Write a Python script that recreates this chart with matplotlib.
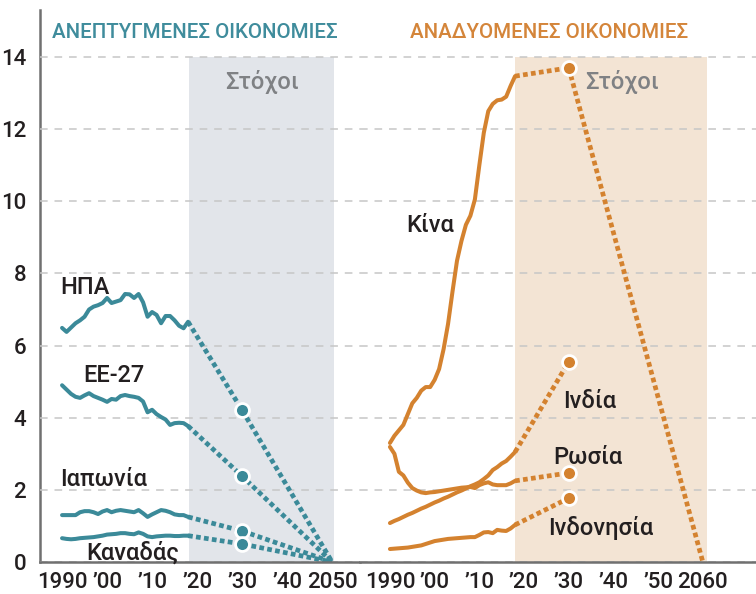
import matplotlib
matplotlib.use("Agg")
import matplotlib.pyplot as plt

plt.rcParams['font.family'] = ['Roboto', 'DejaVu Sans']

# Data
hist_years = list(range(1990, 2019))
usa = [6.49, 6.38, 6.50, 6.62, 6.70, 6.80, 7.00, 7.08, 7.12, 7.18, 7.32, 7.18, 7.22, 7.26, 7.43,
       7.42, 7.32, 7.43, 7.20, 6.80, 6.93, 6.85, 6.62, 6.82, 6.82, 6.70, 6.55, 6.48, 6.66]
eu27 = [4.90, 4.78, 4.66, 4.58, 4.55, 4.62, 4.68, 4.60, 4.55, 4.50, 4.44, 4.52, 4.50, 4.60, 4.63,
        4.60, 4.58, 4.55, 4.45, 4.15, 4.22, 4.10, 4.02, 3.95, 3.80, 3.85, 3.86, 3.85, 3.77]
japan = [1.30, 1.30, 1.30, 1.30, 1.38, 1.41, 1.41, 1.38, 1.33, 1.40, 1.44, 1.38, 1.42, 1.44, 1.42,
         1.40, 1.38, 1.44, 1.35, 1.25, 1.32, 1.38, 1.44, 1.42, 1.38, 1.32, 1.30, 1.30, 1.25]
canada = [0.66, 0.64, 0.63, 0.64, 0.66, 0.67, 0.68, 0.69, 0.71, 0.73, 0.76, 0.77, 0.78, 0.80, 0.80,
          0.78, 0.77, 0.82, 0.78, 0.71, 0.69, 0.71, 0.72, 0.73, 0.73, 0.72, 0.72, 0.73, 0.73]

china = [3.30, 3.50, 3.65, 3.80, 4.10, 4.40, 4.55, 4.75, 4.85, 4.85, 5.05, 5.35, 5.90, 6.60, 7.50,
         8.35, 8.90, 9.35, 9.60, 10.05, 11.00, 11.90, 12.50, 12.70, 12.80, 12.82, 12.90, 13.20, 13.47]
russia = [3.19, 3.00, 2.50, 2.40, 2.20, 2.05, 1.98, 1.93, 1.91, 1.93, 1.94, 1.96, 1.98, 2.00, 2.02,
          2.04, 2.06, 2.07, 2.08, 2.05, 2.13, 2.18, 2.21, 2.15, 2.13, 2.13, 2.13, 2.18, 2.25]
india = [1.08, 1.14, 1.19, 1.25, 1.31, 1.36, 1.42, 1.48, 1.53, 1.59, 1.65, 1.70, 1.76, 1.81, 1.87,
         1.93, 1.98, 2.04, 2.10, 2.15, 2.21, 2.30, 2.40, 2.55, 2.63, 2.73, 2.80, 2.92, 3.05]
indonesia = [0.36, 0.37, 0.38, 0.39, 0.40, 0.42, 0.44, 0.46, 0.50, 0.54, 0.58, 0.60, 0.62, 0.64, 0.65,
             0.66, 0.67, 0.68, 0.69, 0.69, 0.75, 0.82, 0.83, 0.80, 0.89, 0.87, 0.86, 0.93, 1.03]

# targets
dev_target_years = [2018, 2030, 2050]
usa_target = [6.66, 4.21, 0.0]
eu27_target = [3.77, 2.38, 0.0]
japan_target = [1.25, 0.86, 0.0]
canada_target = [0.73, 0.50, 0.0]

em_target_years = [2018, 2030]
china_target = [13.47, 13.70]
china_net_zero_years = [2030, 2060]
china_net_zero = [13.70, 0.0]
russia_target = [2.25, 2.47]
india_target = [3.05, 5.55]
indonesia_target = [1.03, 1.77]

yticks = [0, 2, 4, 6, 8, 10, 12, 14]
left_ticks = [1990, 2000, 2010, 2020, 2030, 2040, 2050]
left_ticklabels = ['1990', '’00', '’10', '’20', '’30', '’40', '2050']
right_ticks = [1990, 2000, 2010, 2020, 2030, 2040, 2050, 2060]
right_ticklabels = ['1990', '’00', '’10', '’20', '’30', '’40', '’50', '2060']

# Styles
teal = '#3b8a99'
orange = '#d4822f'
txt = '#231f20'
grid_c = '#c6c6c6'
axis_c = '#707070'
dotted = (0, (1.0, 0.7))

fig = plt.figure(figsize=(7.56, 5.94), dpi=100)
W, H = 756, 594
bottom = (H - 562) / H
height = 552 / H
ax1 = fig.add_axes([40 / W, bottom, 320 / W, height])
ax2 = fig.add_axes([360 / W, bottom, 396 / W, height])

ymax = 552 / 36.07
ax1.set_xlim(1985.1, 2056.2)
ax2.set_xlim(1983.3, 2071.9)

for ax in (ax1, ax2):
    ax.set_ylim(0, ymax)
    ax.set_yticks(yticks)
    ax.yaxis.grid(True, color=grid_c, linestyle=(0, (5, 4.5)), linewidth=1.1, zorder=1)
    ax.set_axisbelow(False)
    ax.tick_params(length=0, labelsize=16, labelcolor=txt, pad=7)
    for s in ('top', 'right'):
        ax.spines[s].set_visible(False)
    ax.spines['bottom'].set_color(axis_c)
    ax.spines['bottom'].set_linewidth(1.8)
    ax.spines['left'].set_color(axis_c)
    ax.spines['left'].set_linewidth(1.8)
    ax.spines['bottom'].set_zorder(6)
    for t in ax.get_xticklabels() + ax.get_yticklabels():
        t.set_fontweight('medium')

ax2.spines['left'].set_visible(False)
ax2.tick_params(axis='y', labelleft=False)
ax1.tick_params(axis='y', pad=10)

ax1.set_xticks(left_ticks)
ax1.set_xticklabels(left_ticklabels, fontweight='medium')
ax2.set_xticks(right_ticks)
ax2.set_xticklabels(right_ticklabels, fontweight='medium')
ax1.set_yticklabels([str(v) for v in yticks], fontweight='medium')

# shaded target areas
ax1.fill_betweenx([0, 14], 2018.3, 2050.5, color='#e2e5ea', lw=0, zorder=0)
ax2.fill_betweenx([0, 14], 2018.0, 2060.9, color='#f3e4d4', lw=0, zorder=0)

line_kw = dict(linewidth=2.9, solid_capstyle='round', solid_joinstyle='round', zorder=3)
dot_kw = dict(linewidth=3.4, linestyle=dotted, dash_capstyle='butt', zorder=3)
mk_kw = dict(marker='o', markersize=10, markeredgecolor='white', markeredgewidth=2,
             linestyle='none', zorder=5)

for vals, tgt in ((usa, usa_target), (eu27, eu27_target), (japan, japan_target), (canada, canada_target)):
    ax1.plot(hist_years, vals, color=teal, **line_kw)
    ax1.plot(dev_target_years, tgt, color=teal, **dot_kw)
    ax1.plot(dev_target_years[1], tgt[1], color=teal, **mk_kw)

for vals, tgt in ((china, china_target), (russia, russia_target), (india, india_target),
                  (indonesia, indonesia_target)):
    ax2.plot(hist_years, vals, color=orange, **line_kw)
    ax2.plot(em_target_years, tgt, color=orange, **dot_kw)
ax2.plot(china_net_zero_years, china_net_zero, color=orange, **dot_kw)
for tgt in (china_target, russia_target, india_target, indonesia_target):
    ax2.plot(em_target_years[1], tgt[1], color=orange, **mk_kw)

# texts
lab = dict(fontsize=17, color=txt, ha='center', va='center', zorder=7, fontweight='medium')
ax1.text(1995.1, 7.62, 'ΗΠΑ', **lab)
ax1.text(2001.6, 5.18, 'ΕΕ-27', **lab)
ax1.text(1999.3, 2.30, 'Ιαπωνία', **lab)
ax1.text(2005.6, 0.25, 'Καναδάς', **lab)
ax2.text(1998.9, 9.34, 'Κίνα', **lab)
ax2.text(2034.7, 4.44, 'Ινδία', **lab)
ax2.text(2034.3, 2.91, 'Ρωσία', **lab)
ax2.text(2037.2, 0.94, 'Ινδονησία', **lab)

ax1.text(2034.4, 13.3, 'Στόχοι', fontsize=17, color='#7f8184', ha='center', va='center',
         fontweight='medium')
ax2.text(2042.0, 13.3, 'Στόχοι', fontsize=17, color='#7f8184', ha='center', va='center',
         fontweight='medium')

ax1.text(1987.8, 14.69, 'ΑΝΕΠΤΥΓΜΕΝΕΣ ΟΙΚΟΝΟΜΙΕΣ', fontsize=14.8, color='#3f8c9c',
         ha='left', va='center', fontweight='medium')
ax2.text(2025.6, 14.69, 'ΑΝΑΔΥΟΜΕΝΕΣ ΟΙΚΟΝΟΜΙΕΣ', fontsize=14.8, color='#d4853a',
         ha='center', va='center', fontweight='medium')

fig.savefig('out.png', dpi=100)
